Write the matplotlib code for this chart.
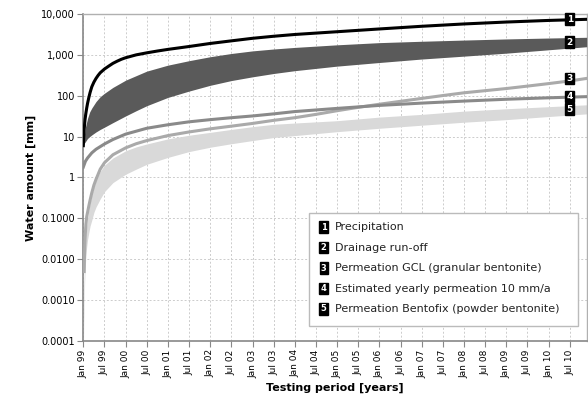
import numpy as np
import matplotlib
matplotlib.use("Agg")
import matplotlib.pyplot as plt

# time in years since Jan 99, values in mm
t_prec = [0.0, 0.01, 0.02, 0.04, 0.06, 0.08, 0.1, 0.13, 0.16, 0.2, 0.25, 0.3, 0.35, 0.4,
          0.5, 0.6, 0.7, 0.8, 0.9, 1.0, 1.25, 1.5, 1.75, 2.0, 2.5, 3.0, 3.5, 4.0, 4.5,
          5.0, 6.0, 7.0, 8.0, 9.0, 10.0, 11.0, 11.9]
v_prec = [6, 10, 15, 26, 37, 50, 65, 90, 120, 165, 215, 265, 315, 365,
          450, 530, 620, 700, 780, 850, 1000, 1120, 1240, 1360, 1600, 1900, 2200, 2540, 2850,
          3150, 3680, 4300, 5000, 5700, 6350, 6950, 7400]

t_drain = [0.0, 0.02, 0.05, 0.1, 0.15, 0.2, 0.3, 0.4, 0.5, 0.7, 1.0, 1.25, 1.5, 2.0, 2.5,
           3.0, 3.5, 4.0, 4.5, 5.0, 6.0, 7.0, 8.0, 9.0, 10.0, 11.0, 11.9]
v_drain_hi = [6, 10, 17, 28, 40, 50, 72, 95, 115, 160, 240, 310, 400, 560, 720,
              900, 1080, 1250, 1390, 1520, 1760, 1990, 2150, 2300, 2450, 2580, 2690]
v_drain_lo = [6, 6.8, 7.5, 9, 10, 11, 13, 15, 17, 22, 32, 43, 57, 91, 130,
              180, 235, 290, 350, 410, 530, 650, 790, 930, 1100, 1330, 1580]

t_gcl = [0.02, 0.03, 0.04, 0.06, 0.08, 0.1, 0.13, 0.16, 0.2, 0.25, 0.3, 0.4, 0.5, 0.7,
         1.0, 1.25, 1.5, 2.0, 2.5, 3.0, 3.5, 4.0, 4.5, 5.0, 5.5, 6.0, 6.5, 7.0, 7.5, 8.0,
         8.5, 9.0, 9.5, 10.0, 10.5, 11.0, 11.5, 11.9]
v_gcl = [0.005, 0.015, 0.03, 0.07, 0.11, 0.14, 0.2, 0.28, 0.42, 0.65, 0.9, 1.6, 2.3, 3.6,
         5.3, 6.7, 8.0, 10.6, 13, 15.5, 18, 21, 25, 29, 35, 43, 52, 62, 73, 86,
         101, 118, 133, 150, 172, 198, 230, 265]

t_est = [0.0, 0.05, 0.1, 0.2, 0.3, 0.5, 0.7, 1.0, 1.5, 2.0, 2.5, 3.0, 3.5, 4.0,
         4.5, 5.0, 6.0, 7.0, 8.0, 9.0, 10.0, 11.0, 11.9]
v_est = [1.8, 2.5, 3.0, 4.0, 4.9, 6.6, 8.5, 11.5, 16, 19.5, 23, 26, 29, 32,
         36, 41, 49, 58, 66, 74, 82, 89, 95]

t_bento = [0.005, 0.01, 0.02, 0.03, 0.04, 0.06, 0.08, 0.1, 0.13, 0.16, 0.2, 0.25, 0.3, 0.4,
           0.5, 0.7, 1.0, 1.25, 1.5, 2.0, 2.5, 3.0, 3.5, 4.0, 4.5, 5.0, 6.0, 7.0, 8.0, 9.0,
           10.0, 11.0, 11.9]
v_bento_hi = [0.0005, 0.001, 0.004, 0.01, 0.018, 0.04, 0.07, 0.1, 0.16, 0.24, 0.38, 0.6,
              0.85, 1.4, 2.0, 3.0, 4.5, 5.6, 6.6, 8.8, 10.8, 12.7, 15, 17.5, 20, 21.5, 24.5,
              30, 35, 42, 48, 54, 60]
v_bento_lo = [0.0001, 0.0003, 0.001, 0.0025, 0.005, 0.012, 0.02, 0.03, 0.045, 0.065, 0.09,
              0.14, 0.19, 0.3, 0.45, 0.75, 1.2, 1.6, 2.1, 3.1, 4.3, 5.5, 6.7, 8.0, 9.5, 10.6,
              13.2, 16, 19, 22.5, 26, 31, 36]

legend_labels = [
    "Precipitation",
    "Drainage run-off",
    "Permeation GCL (granular bentonite)",
    "Estimated yearly permeation 10 mm/a",
    "Permeation Bentofix (powder bentonite)",
]

x_ticks = np.arange(0, 11.6, 0.5)
x_labels = []
for i in range(len(x_ticks)):
    yr = (99 + i // 2) % 100
    x_labels.append(("Jan " if i % 2 == 0 else "Jul ") + f"{yr:02d}")

y_ticks = [1e-4, 1e-3, 1e-2, 1e-1, 1, 10, 100, 1000, 10000]
y_labels = ["0.0001", "0.0010", "0.0100", "0.1000", "1", "10", "100", "1,000", "10,000"]

fig = plt.figure(figsize=(5.88, 4.05), dpi=100)
ax = fig.add_axes([0.1417, 0.158, 0.856, 0.8075])

ax.fill_between(t_bento, v_bento_lo, v_bento_hi, color="#d9d9d9", lw=0, zorder=2)
ax.plot(t_gcl, v_gcl, color="#aaaaaa", lw=2.2, zorder=3, solid_joinstyle="round")
ax.plot(t_est, v_est, color="#8a8a8a", lw=2.2, zorder=4, solid_joinstyle="round")
ax.fill_between(t_drain, v_drain_lo, v_drain_hi, color="#5a5a5a", lw=0, zorder=5)
ax.plot(t_prec, v_prec, color="black", lw=2.2, zorder=6, solid_joinstyle="round")

ax.set_yscale("log")
ax.set_xlim(0, 11.9)
ax.set_ylim(1e-4, 1e4)
ax.set_yticks(y_ticks)
ax.set_yticklabels(y_labels)
ax.minorticks_off()
ax.set_xticks(x_ticks)
ax.set_xticklabels(x_labels, rotation=90)
ax.tick_params(axis="both", labelsize=7, color="#888888", length=4, width=0.8, pad=2)
ax.tick_params(axis="x", labelsize=6.5)

ax.grid(True, color="#cccccc", linestyle=(0, (2, 2)), linewidth=0.7, zorder=0)
ax.set_axisbelow(True)
for side in ["left", "bottom"]:
    ax.spines[side].set_color("#888888")
    ax.spines[side].set_linewidth(1.2)
for side in ["top", "right"]:
    ax.spines[side].set_color("#b0b0b0")
    ax.spines[side].set_linewidth(1.0)

ax.set_ylabel("Water amount [mm]", fontsize=8, fontweight="bold", labelpad=4)
ax.set_xlabel("Testing period [years]", fontsize=8, fontweight="bold", labelpad=4)

# numbered tags at the right end of the curves
box = dict(boxstyle="square,pad=0.15", fc="black", ec="black")
end_vals = [
    v_prec[-1],
    np.sqrt(v_drain_lo[-1] * v_drain_hi[-1]),
    v_gcl[-1],
    v_est[-1],
    np.sqrt(v_bento_lo[-1] * v_bento_hi[-1]),
]
for i, v in enumerate(end_vals):
    ax.text(11.5, v, str(i + 1), color="white", fontsize=6.5, fontweight="bold",
            ha="center", va="center", bbox=box, zorder=8)

# legend box
ax.add_patch(plt.Rectangle((0.448, 0.045), 0.535, 0.345, transform=ax.transAxes,
                           fc="white", ec="#bbbbbb", lw=1.0, zorder=9))
for i, lab in enumerate(legend_labels):
    y = 0.348 - i * 0.0625
    ax.text(0.4775, y, str(i + 1), transform=ax.transAxes, color="white", fontsize=6,
            fontweight="bold", ha="center", va="center", bbox=box, zorder=10)
    ax.text(0.500, y, lab, transform=ax.transAxes, fontsize=8, color="#222222",
            ha="left", va="center", zorder=10)

fig.savefig("out.png", dpi=100, facecolor="white")
